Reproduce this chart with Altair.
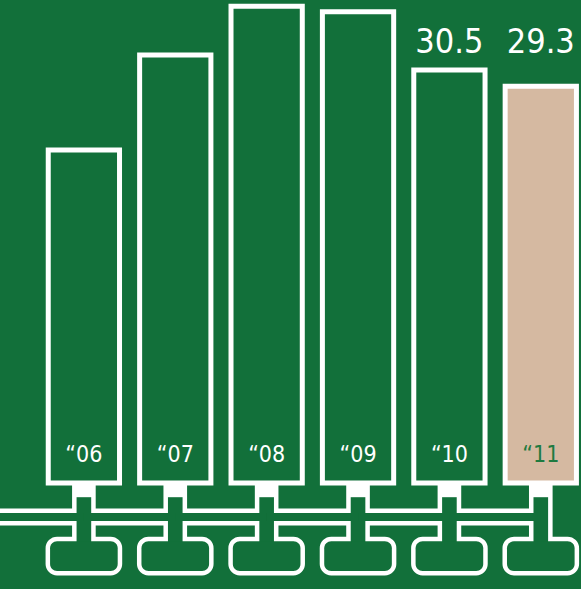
import altair as alt
import pandas as pd

# ---- data ----
years = ["\u201c06", "\u201c07", "\u201c08", "\u201c09", "\u201c10", "\u201c11"]
values = [24.6, 31.6, 35.2, 34.8, 30.5, 29.3]
value_labels = ["", "", "", "", "30.5", "29.3"]
group = ["past", "past", "past", "past", "past", "current"]

# ---- style ----
BG = "#12703a"
TAN = "#d5b9a1"
WHITE = "#ffffff"
DARK_LABEL = "#1e7a40"
FONT = "'Liberation Sans Narrow', 'DejaVu Sans Condensed', 'Roboto', sans-serif"

W, H = 581, 589

df = pd.DataFrame({
    "year": years,
    "value": values,
    "vlabel": value_labels,
    "grp": group,
    "idx": list(range(len(years))),
})

xs = alt.Scale(domain=[-0.918, 5.44], nice=False, zero=False)
ys = alt.Scale(domain=[-7.83, 35.67], nice=False, zero=False)


def rect_layer(calc, mark):
    return alt.Chart(df).transform_calculate(**calc).mark_rect(**mark).encode(
        x=alt.X("xa:Q", scale=xs, axis=None),
        x2="xb:Q",
        y=alt.Y("ya:Q", scale=ys, axis=None),
        y2="yb:Q",
    )


# pipe geometry (relative to each bar's slot)
pipe_v = dict(xa="datum.idx - 0.08", xb="datum.idx + 0.08", ya="0.3", yb="-4.6")
pipe_h = dict(xa="datum.idx - 1", xb="datum.idx", ya="-2.22", yb="-2.81")
body = dict(xa="datum.idx - 0.37", xb="datum.idx + 0.37", ya="-4.3", yb="-6.5")
plug = dict(xa="datum.idx - 0.1", xb="datum.idx + 0.1", ya="0", yb="-1.05")

white_mark = dict(color=WHITE, stroke=WHITE, strokeWidth=9, strokeJoin="round")
green_mark = dict(color=BG, strokeWidth=0)

layers = [
    rect_layer(pipe_v, white_mark),
    rect_layer(pipe_h, white_mark),
    rect_layer(body, dict(white_mark, cornerRadius=7)),
    rect_layer(pipe_v, green_mark),
    rect_layer(pipe_h, green_mark),
    rect_layer(body, dict(green_mark, cornerRadius=7)),
    rect_layer(plug, dict(color=WHITE)),
]

fill_scale = alt.Scale(domain=["past", "current"], range=[BG, TAN])
text_scale = alt.Scale(domain=["past", "current"], range=[WHITE, DARK_LABEL])

bars = alt.Chart(df).transform_calculate(
    xa="datum.idx - 0.39", xb="datum.idx + 0.39", base="0"
).mark_rect(stroke=WHITE, strokeWidth=5).encode(
    x=alt.X("xa:Q", scale=xs, axis=None),
    x2="xb:Q",
    y=alt.Y("value:Q", scale=ys, axis=None),
    y2="base:Q",
    fill=alt.Fill("grp:N", scale=fill_scale, legend=None),
)

year_text = alt.Chart(df).transform_calculate(
    ly="1.55"
).mark_text(
    font=FONT, fontSize=23, baseline="alphabetic", align="center"
).encode(
    x=alt.X("idx:Q", scale=xs, axis=None),
    y=alt.Y("ly:Q", scale=ys, axis=None),
    text="year:N",
    color=alt.Color("grp:N", scale=text_scale, legend=None),
)

value_text = alt.Chart(df).transform_filter(
    "datum.vlabel != ''"
).transform_joinaggregate(
    ly="max(value)"
).mark_text(
    font=FONT, fontSize=34, baseline="alphabetic", align="center", dy=-17, color=WHITE
).encode(
    x=alt.X("idx:Q", scale=xs, axis=None),
    y=alt.Y("ly:Q", scale=ys, axis=None),
    text="vlabel:N",
)

chart = alt.layer(*layers, bars, year_text, value_text).properties(
    width=W, height=H, background=BG, padding=0,
    autosize=alt.AutoSizeParams(type="none"),
).configure_view(stroke=None)

chart.save("out.html", embed_options={"renderer": "svg", "actions": False})
